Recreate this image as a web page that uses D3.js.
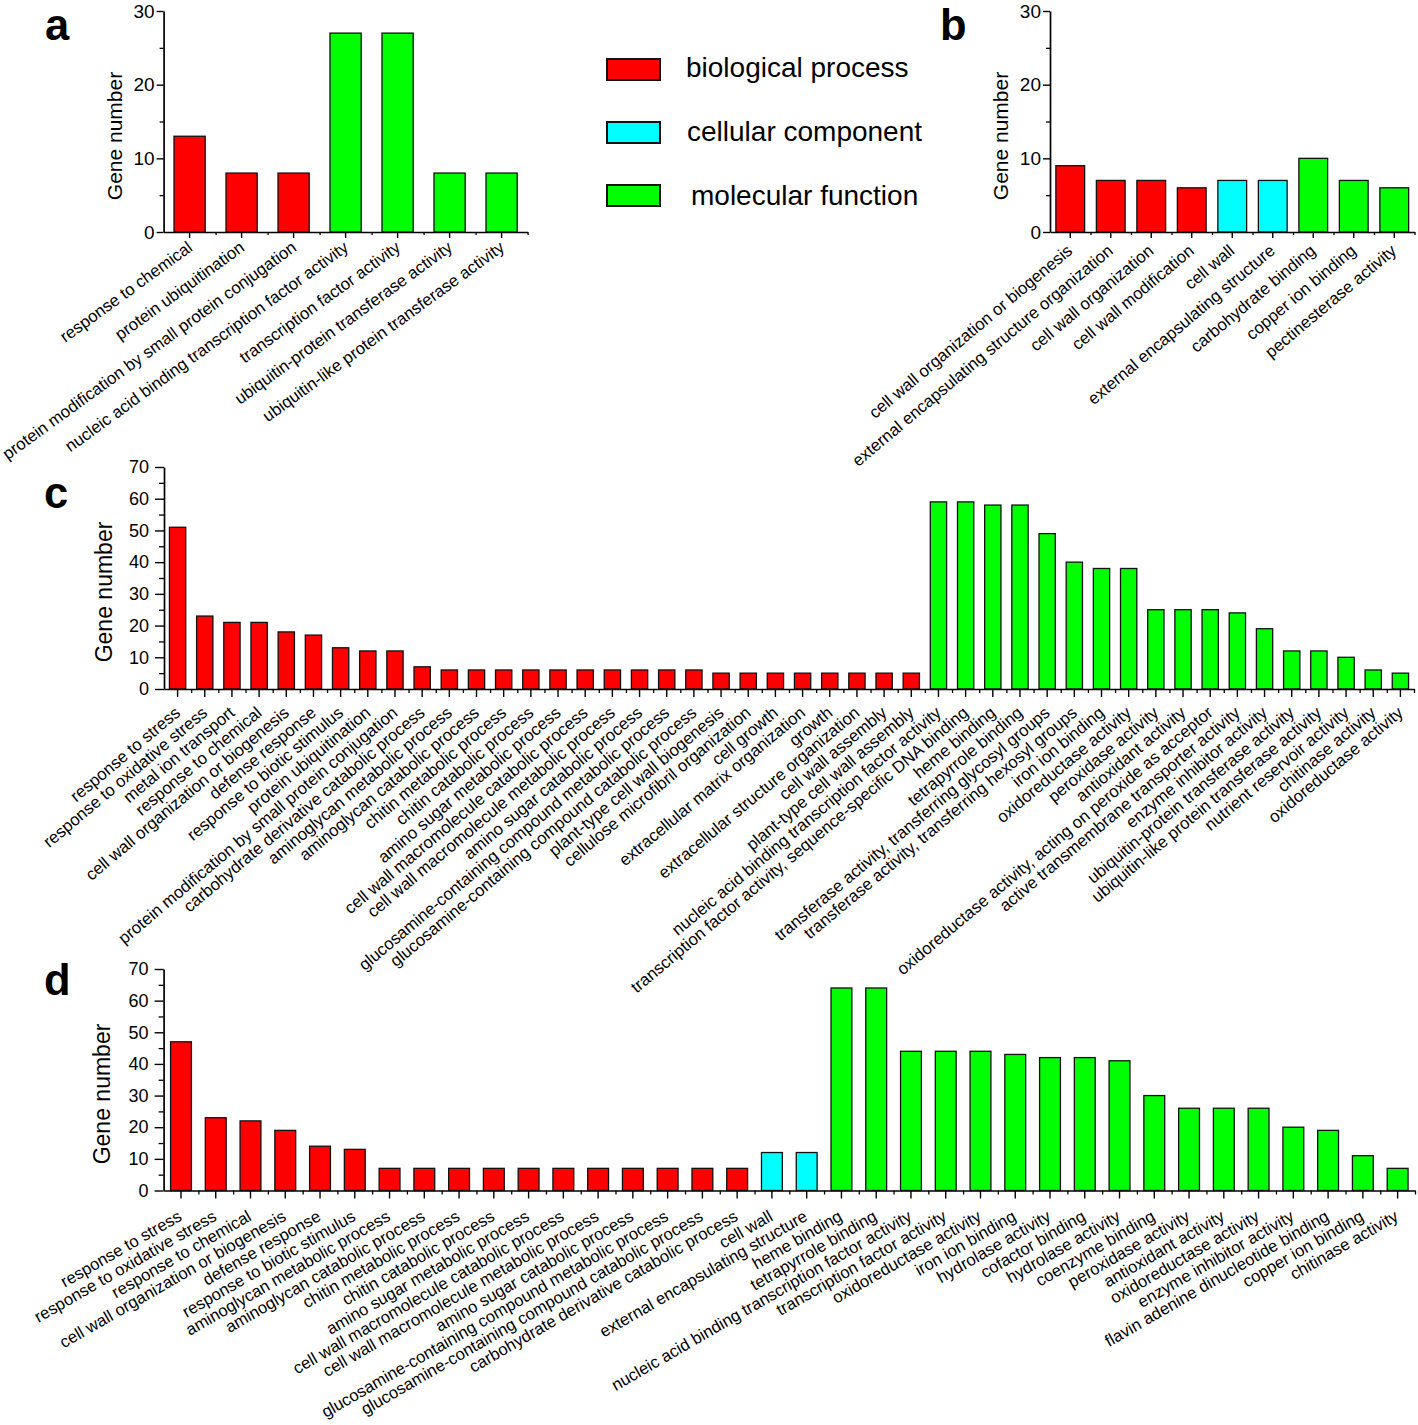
<!DOCTYPE html>
<html><head><meta charset="utf-8">
<script src="https://cdn.jsdelivr.net/npm/d3@7"></script>
<style>
body{margin:0;background:#fff}
svg text{font-family:"Liberation Sans",Arial,sans-serif;fill:#000}
</style>
</head><body>
<svg id="chart" width="1418" height="1425"></svg>
<script>
// ---------- data ----------
const groupNames = ["biological process", "cellular component", "molecular function"];
const groupColors = ["#ff0000", "#00ffff", "#00ff00"];
const yTicks30 = [0, 10, 20, 30];
const yTicks70 = [0, 10, 20, 30, 40, 50, 60, 70];
const yAxisTitle = "Gene number";

const catsA = ["response to chemical", "protein ubiquitination", "protein modification by small protein conjugation",
  "nucleic acid binding transcription factor activity", "transcription factor activity",
  "ubiquitin-protein transferase activity", "ubiquitin-like protein transferase activity"];
const valsA = [13, 8, 8, 27, 27, 8, 8];
const grpA = [0, 0, 0, 2, 2, 2, 2];

const catsB = ["cell wall organization or biogenesis", "external encapsulating structure organization",
  "cell wall organization", "cell wall modification", "cell wall", "external encapsulating structure",
  "carbohydrate binding", "copper ion binding", "pectinesterase activity"];
const valsB = [9, 7, 7, 6, 7, 7, 10, 7, 6];
const grpB = [0, 0, 0, 0, 1, 1, 2, 2, 2];

const catsC = ["response to stress", "response to oxidative stress", "metal ion transport", "response to chemical",
  "cell wall organization or biogenesis", "defense response", "response to biotic stimulus", "protein ubiquitination",
  "protein modification by small protein conjugation", "carbohydrate derivative catabolic process",
  "aminoglycan metabolic process", "aminoglycan catabolic process", "chitin metabolic process", "chitin catabolic process",
  "amino sugar metabolic process", "cell wall macromolecule catabolic process", "cell wall macromolecule metabolic process",
  "amino sugar catabolic process", "glucosamine-containing compound metabolic process",
  "glucosamine-containing compound catabolic process", "plant-type cell wall biogenesis",
  "cellulose microfibril organization", "cell growth", "extracellular matrix organization", "growth",
  "extracellular structure organization", "cell wall assembly", "plant-type cell wall assembly",
  "nucleic acid binding transcription factor activity", "transcription factor activity, sequence-specific DNA binding",
  "heme binding", "tetrapyrrole binding", "transferase activity, transferring glycosyl groups",
  "transferase activity, transferring hexosyl groups", "iron ion binding", "oxidoreductase activity",
  "peroxidase activity", "antioxidant activity", "oxidoreductase activity, acting on peroxide as acceptor",
  "active transmembrane transporter activity", "enzyme inhibitor activity", "ubiquitin-protein transferase activity",
  "ubiquitin-like protein transferase activity", "nutrient reservoir activity", "chitinase activity",
  "oxidoreductase activity"];
const valsC = [51, 23, 21, 21, 18, 17, 13, 12, 12, 7, 6, 6, 6, 6, 6, 6, 6, 6, 6, 6, 5, 5, 5, 5, 5, 5, 5, 5,
  59, 59, 58, 58, 49, 40, 38, 38, 25, 25, 25, 24, 19, 12, 12, 10, 6, 5];
const grpC = [0,0,0,0,0,0,0,0,0,0,0,0,0,0,0,0,0,0,0,0,0,0,0,0,0,0,0,0,
  2,2,2,2,2,2,2,2,2,2,2,2,2,2,2,2,2,2];

const catsD = ["response to stress", "response to oxidative stress", "response to chemical",
  "cell wall organization or biogenesis", "defense response", "response to biotic stimulus",
  "aminoglycan metabolic process", "aminoglycan catabolic process", "chitin metabolic process",
  "chitin catabolic process", "amino sugar metabolic process", "cell wall macromolecule catabolic process",
  "cell wall macromolecule metabolic process", "amino sugar catabolic process",
  "glucosamine-containing compound metabolic process", "glucosamine-containing compound catabolic process",
  "carbohydrate derivative catabolic process", "cell wall", "external encapsulating structure",
  "heme binding", "tetrapyrrole binding", "nucleic acid binding transcription factor activity",
  "transcription factor activity", "oxidoreductase activity", "iron ion binding", "hydrolase activity",
  "cofactor binding", "hydrolase activity", "coenzyme binding", "peroxidase activity", "antioxidant activity",
  "oxidoreductase activity", "enzyme inhibitor activity", "flavin adenine dinucleotide binding",
  "copper ion binding", "chitinase activity"];
const valsD = [47, 23, 22, 19, 14, 13, 7, 7, 7, 7, 7, 7, 7, 7, 7, 7, 7, 12, 12,
  64, 64, 44, 44, 44, 43, 42, 42, 41, 30, 26, 26, 26, 20, 19, 11, 7];
const grpD = [0,0,0,0,0,0,0,0,0,0,0,0,0,0,0,0,0,1,1,
  2,2,2,2,2,2,2,2,2,2,2,2,2,2,2,2,2];

// ---------- drawing ----------
const svg = d3.select("#chart");
svg.append("rect").attr("width", 1418).attr("height", 1425).attr("fill", "#fff");

function panel(o) {
  const g = svg.append("g");
  const n = o.cats.length;
  const x = d3.scaleBand().domain(d3.range(n)).range([o.x0, o.x1])
    .paddingInner(o.pad).paddingOuter(o.pad / 2);
  const xb = d3.scaleLinear().domain([0, n]).range([o.x0, o.x1]);
  const y = d3.scaleLinear().domain([0, o.ymax]).range([o.y0, o.y1]);

  g.selectAll("rect.bar").data(o.vals).join("rect").attr("class", "bar")
    .attr("x", (d, i) => x(i)).attr("y", d => y(d))
    .attr("width", x.bandwidth()).attr("height", d => y(0) - y(d))
    .attr("fill", (d, i) => groupColors[o.grp[i]])
    .attr("stroke", "#111").attr("stroke-width", 1.3);

  // y minor ticks
  const minor = o.ticks.slice(0, -1).map((t, i) => (t + o.ticks[i + 1]) / 2);
  g.append("g").attr("transform", `translate(${o.x0},0)`)
    .call(d3.axisLeft(y).tickValues(minor).tickSize(o.yMinor).tickFormat(""))
    .call(s => { s.select(".domain").remove(); s.selectAll("line").attr("stroke-width", 1.3); });
  // y major
  const ya = g.append("g").attr("transform", `translate(${o.x0},0)`)
    .call(d3.axisLeft(y).tickValues(o.ticks).tickSize(o.yMajor).tickSizeOuter(0).tickPadding(o.yPad));
  ya.selectAll("text").attr("font-size", o.tickFont);
  ya.selectAll("line").attr("stroke-width", 1.4);
  ya.select(".domain").attr("stroke-width", 1.7);

  // x minor ticks (between bars)
  g.append("g").attr("transform", `translate(0,${o.y0})`)
    .call(d3.axisBottom(xb).tickValues(d3.range(1, n + 1)).tickSize(o.xMinor).tickFormat(""))
    .call(s => { s.select(".domain").remove(); s.selectAll("line").attr("stroke-width", 1.3); });
  // x major
  const xa = g.append("g").attr("transform", `translate(0,${o.y0})`)
    .call(d3.axisBottom(x).tickSize(o.xMajor).tickSizeOuter(0).tickFormat(i => o.cats[i]));
  xa.select(".domain").attr("stroke-width", 1.7);
  xa.selectAll("line").attr("stroke-width", 1.4);
  xa.selectAll("text")
    .attr("y", null).attr("x", null).attr("dy", "0.35em")
    .attr("text-anchor", "end").attr("font-size", o.labFont)
    .attr("transform", `translate(${o.ldx},${o.ldy}) rotate(${-o.angle})`);

  g.append("text").attr("transform", `translate(${o.tx},${o.ty}) rotate(-90)`)
    .attr("text-anchor", "middle").attr("dy", "0.35em")
    .attr("font-size", o.titleFont).text(yAxisTitle);

  g.append("text").attr("x", o.lx).attr("y", o.ly)
    .attr("font-size", 43.5).attr("font-weight", "bold").text(o.letter);
}

panel({cats: catsA, vals: valsA, grp: grpA, x0: 163.6, x1: 527.6, pad: 0.4, y0: 232, y1: 11, ymax: 30,
  ticks: yTicks30, yMajor: 7, yMinor: 4, yPad: 2, tickFont: 19, xMajor: 6, xMinor: 3,
  labFont: 16.8, angle: 36, ldx: 0.5, ldy: 13, tx: 115, ty: 136, titleFont: 21, letter: "a", lx: 45, ly: 39.5});

panel({cats: catsB, vals: valsB, grp: grpB, x0: 1050, x1: 1414.5, pad: 0.29, y0: 232, y1: 11, ymax: 30,
  ticks: yTicks30, yMajor: 7, yMinor: 4, yPad: 2, tickFont: 19, xMajor: 6, xMinor: 3,
  labFont: 16.8, angle: 40, ldx: -0.5, ldy: 16, tx: 1001, ty: 136, titleFont: 21, letter: "b", lx: 940, ly: 39.5});

panel({cats: catsC, vals: valsC, grp: grpC, x0: 164, x1: 1414, pad: 0.4, y0: 689, y1: 467, ymax: 70,
  ticks: yTicks70, yMajor: 9, yMinor: 5, yPad: 6, tickFont: 18, xMajor: 8, xMinor: 4,
  labFont: 16.8, angle: 40, ldx: 0, ldy: 21, tx: 103.5, ty: 592, titleFont: 23, letter: "c", lx: 44, ly: 508});

panel({cats: catsD, vals: valsD, grp: grpD, x0: 163.6, x1: 1415, pad: 0.4, y0: 1190.5, y1: 969, ymax: 70,
  ticks: yTicks70, yMajor: 9, yMinor: 5, yPad: 6, tickFont: 18, xMajor: 8, xMinor: 4,
  labFont: 16.7, angle: 30, ldx: -1, ldy: 24, tx: 102, ty: 1094, titleFont: 23, letter: "d", lx: 44, ly: 995});

// legend
const leg = svg.append("g");
const legTextX = [686, 687, 691];
groupNames.forEach((name, i) => {
  leg.append("rect").attr("x", 607).attr("y", 59 + i * 63).attr("width", 53).attr("height", 21)
    .attr("fill", groupColors[i]).attr("stroke", "#111").attr("stroke-width", 2);
  leg.append("text").attr("x", legTextX[i]).attr("y", 77 + i * 64)
    .attr("font-size", 28).text(name);
});
</script>
</body></html>
